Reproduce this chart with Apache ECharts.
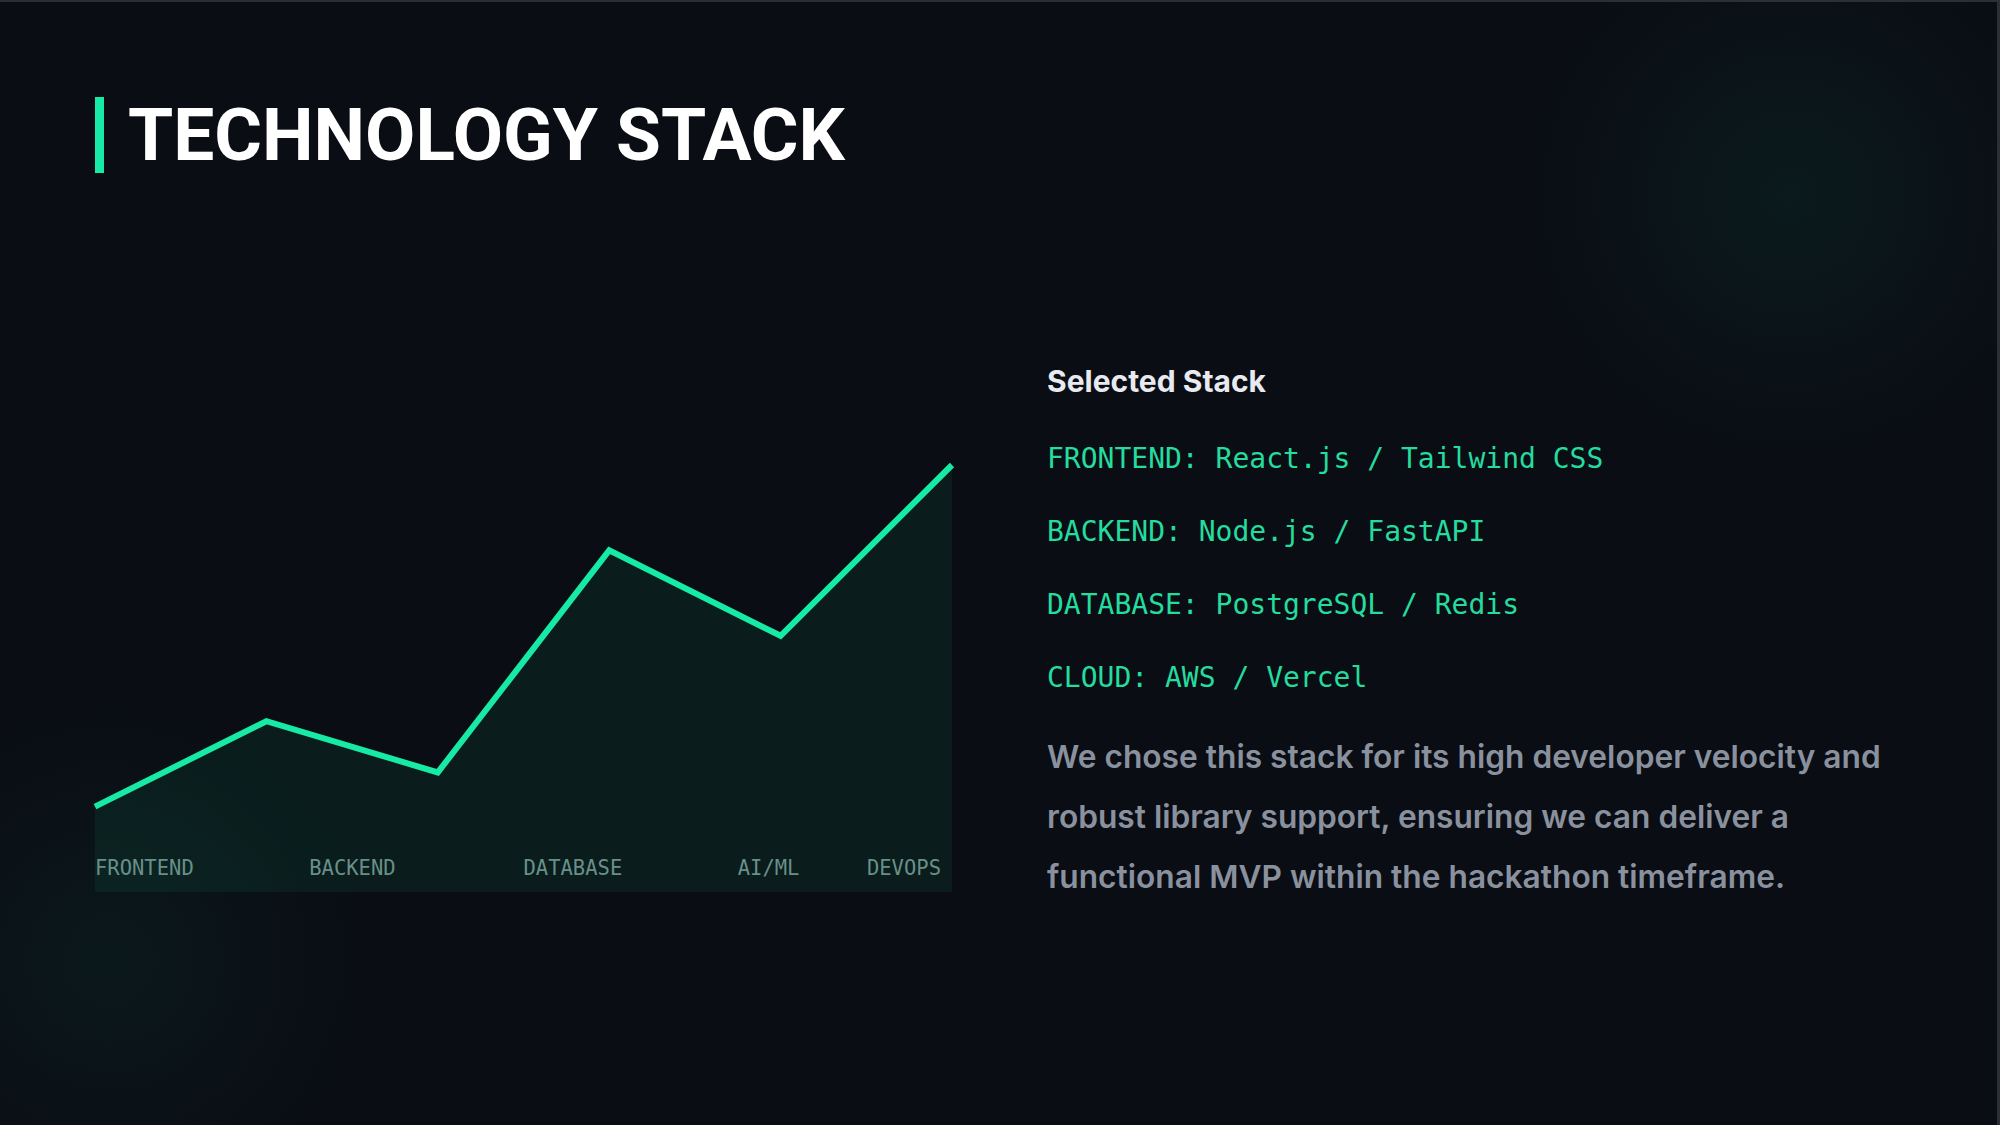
<!DOCTYPE html>
<html>
<head>
<meta charset="utf-8">
<script src="https://cdn.jsdelivr.net/npm/echarts@6/dist/echarts.min.js"></script>
<style>
  html, body { margin: 0; padding: 0; }
  body {
    width: 2000px; height: 1125px; overflow: hidden;
    background-color: #0a0d14;
    background-image:
      radial-gradient(circle at 1790px 195px, rgba(18, 200, 150, 0.07) 0px, rgba(18, 200, 150, 0) 270px),
      radial-gradient(circle at 110px 960px, rgba(18, 200, 150, 0.06) 0px, rgba(18, 200, 150, 0) 260px);
  }
  #chart { position: absolute; left: 0; top: 0; width: 2000px; height: 1125px; }
  #frame { position: absolute; left: 0; top: 0; width: 2000px; height: 1125px; box-sizing: border-box;
    border-top: 2px solid #2b3038; border-right: 3px solid #2b3038; pointer-events: none; }
</style>
</head>
<body>
<div id="chart"></div>
<div id="frame"></div>
<script>
// ---- data ----
const titleText = 'TECHNOLOGY STACK';
const categories = ['FRONTEND', 'BACKEND', 'DATABASE', 'AI/ML', 'DEVOPS'];
const lineValues = [20, 40, 28, 80, 60, 100];
const panelHeading = 'Selected Stack';
const stackItems = [
  'FRONTEND: React.js / Tailwind CSS',
  'BACKEND: Node.js / FastAPI',
  'DATABASE: PostgreSQL / Redis',
  'CLOUD: AWS / Vercel'
];
const noteLines = [
  'We chose this stack for its high developer velocity and',
  'robust library support, ensuring we can deliver a',
  'functional MVP within the hackathon timeframe.'
];

// ---- styles ----
const GREEN = '#16eaa4';
const TEXT_GREEN = '#24dc9e';

function textEl(text, x, baseline, size, weight, family, fill, k) {
  return {
    type: 'text', x: x, y: baseline - k * size, silent: true,
    style: {
      text: text, fill: fill,
      font: weight + ' ' + size + 'px ' + family,
      textAlign: 'left', textVerticalAlign: 'middle', verticalAlign: 'middle'
    }
  };
}

const graphics = [];
graphics.push({ type: 'rect', shape: { x: 95, y: 97, width: 9, height: 76 }, style: { fill: GREEN }, silent: true });
graphics.push(textEl(titleText, 128, 161, 73, 700, 'Roboto', '#ffffff', 0.36));
graphics.push(textEl(panelHeading, 1047, 392, 30, 700, 'Inter', '#e8eaf0', 0.36));
stackItems.forEach(function (s, i) {
  graphics.push(textEl(s, 1047, 468.5 + i * 73, 28, 400, '"DejaVu Sans Mono"', TEXT_GREEN, 0.35));
});
noteLines.forEach(function (s, i) {
  graphics.push(textEl(s, 1047, 767.5 + i * 60, 31.7, 600, 'Inter', '#8a919e', 0.36));
});

const chart = echarts.init(document.getElementById('chart'), null, { renderer: 'svg' });
chart.setOption({
  backgroundColor: 'transparent',
  animation: false,
  grid: { left: 95, right: 1048, top: 465, bottom: 233, containLabel: false },
  xAxis: [
    { type: 'value', min: 0, max: lineValues.length - 1, show: false },
    {
      type: 'category', data: categories, boundaryGap: false, position: 'bottom',
      axisLine: { show: false }, axisTick: { show: false }, splitLine: { show: false },
      axisLabel: {
        inside: true, margin: 14, align: 'left', alignMaxLabel: 'right',
        color: '#6f8a88', fontFamily: '"DejaVu Sans Mono"', fontSize: 20.5,
        formatter: function (v, i) { return i === categories.length - 1 ? '{last|' + v + '}' : v; },
        rich: { last: { color: '#6f8a88', fontFamily: '"DejaVu Sans Mono"', fontSize: 20.5, padding: [0, 11, 0, 0] } }
      }
    }
  ],
  yAxis: { type: 'value', min: 0, max: 100, show: false },
  series: [{
    type: 'line', xAxisIndex: 0, clip: false,
    data: lineValues.map(function (v, i) { return [i, v]; }),
    symbol: 'none', silent: true,
    lineStyle: { color: GREEN, width: 6, join: 'miter', cap: 'butt' },
    areaStyle: { color: 'rgba(8, 230, 135, 0.1)', origin: 'start' }
  }],
  graphic: graphics
});
</script>
</body>
</html>
